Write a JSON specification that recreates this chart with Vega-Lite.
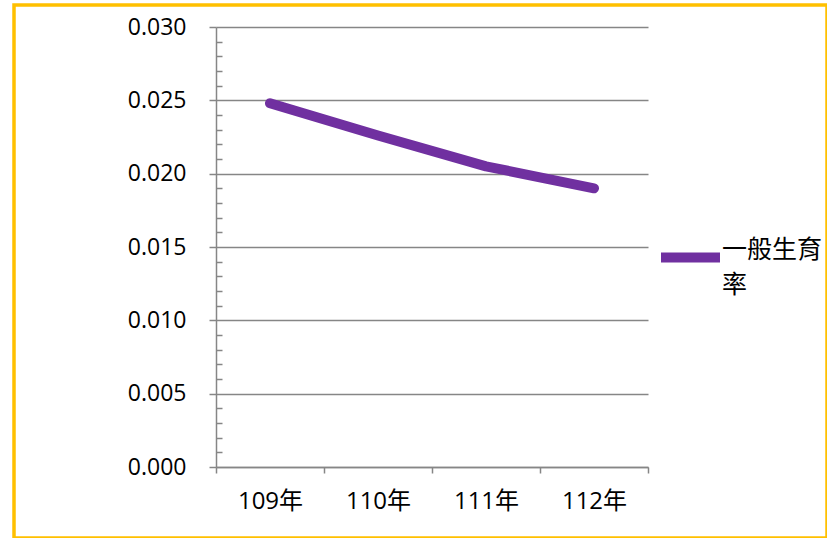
{
  "$schema": "https://vega.github.io/schema/vega-lite/v6.json",
  "width": 813,
  "height": 533,
  "autosize": {"type": "none"},
  "padding": {"left": 14, "top": 5, "right": 0, "bottom": 0},
  "background": "white",
  "config": {
    "view": {"stroke": "#FFC000", "strokeWidth": 3.5},
    "font": "Open Sans, 'Noto Sans CJK TC'",
    "style": {"guide-label": {"lineHeight": 35}}
  },
  "data": {
    "values": [
      {"year": "109年", "rate": 0.0248},
      {"year": "110年", "rate": 0.0226},
      {"year": "111年", "rate": 0.0205},
      {"year": "112年", "rate": 0.0190}
    ]
  },
  "layer": [
    {
      "mark": {"type": "line", "strokeWidth": 10, "strokeCap": "round", "strokeJoin": "round"},
      "encoding": {
        "x": {
          "field": "year", "type": "ordinal", "sort": null,
          "scale": {"type": "band", "range": [202, 634], "paddingInner": 0, "paddingOuter": 0},
          "axis": {
            "orient": "bottom", "offset": -71, "tickBand": "extent", "title": null, "grid": false,
            "domainColor": "#868686", "domainWidth": 1.5, "tickColor": "#868686", "tickWidth": 1.5, "tickSize": 6,
            "labelPadding": 16, "labelFontSize": 24, "labelAngle": 0, "labelColor": "black"
          }
        },
        "y": {
          "field": "rate", "type": "quantitative",
          "scale": {"domain": [0, 0.03], "range": [462, 22], "nice": false, "zero": true},
          "axis": {
            "orient": "left", "offset": -202, "title": null,
            "values": [0, 0.005, 0.01, 0.015, 0.02, 0.025, 0.03], "format": ".3f",
            "grid": true, "gridColor": "#868686", "gridWidth": 1.5,
            "domainColor": "#868686", "domainWidth": 1.5, "tickColor": "#868686", "tickWidth": 1.5, "tickSize": 7,
            "labelPadding": 23, "labelFontSize": 23, "labelColor": "black"
          }
        },
        "color": {
          "datum": "一般生育率",
          "scale": {"range": ["#7030A0"]},
          "legend": {
            "orient": "none", "legendX": 642, "legendY": 218, "title": null, "padding": 0,
            "symbolType": "stroke", "symbolSize": 3481, "symbolStrokeWidth": 10,
            "labelExpr": "['一般生育', '率']", "labelFontSize": 25, "labelColor": "black", "labelOffset": -3,
            "labelBaseline": "alphabetic", "labelLimit": 200
          }
        }
      }
    },
    {
      "mark": {"type": "line", "opacity": 0},
      "encoding": {
        "x": {"field": "year", "type": "ordinal", "sort": null},
        "y": {
          "field": "rate", "type": "quantitative",
          "axis": {
            "orient": "left", "offset": -202, "title": null, "labels": false, "domain": false, "grid": false,
            "values": [0.001, 0.002, 0.003, 0.004, 0.006, 0.007, 0.008, 0.009, 0.011, 0.012, 0.013, 0.014, 0.016, 0.017, 0.018, 0.019, 0.021, 0.022, 0.023, 0.024, 0.026, 0.027, 0.028, 0.029],
            "tickSize": -6, "tickColor": "#868686", "tickWidth": 1.5
          }
        }
      }
    }
  ],
  "resolve": {"axis": {"y": "independent"}}
}
